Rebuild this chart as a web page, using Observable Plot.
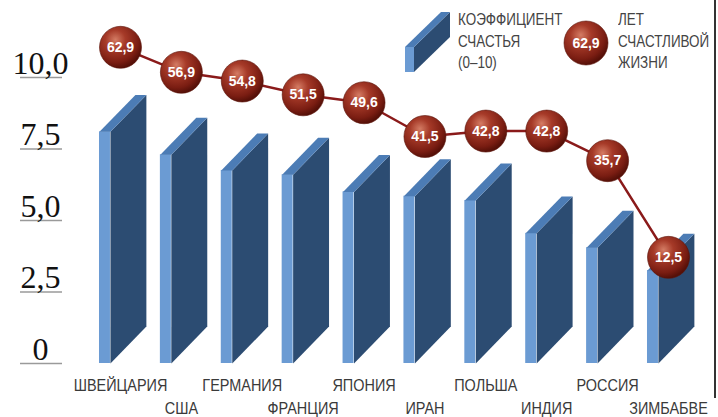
<!DOCTYPE html>
<html><head><meta charset="utf-8">
<script src="https://cdn.jsdelivr.net/npm/d3@7"></script>
<script src="https://cdn.jsdelivr.net/npm/@observablehq/plot@0.6"></script>
<style>
body{margin:0;background:#fff;}
#wrap{position:relative;width:718px;height:417px;overflow:hidden;background:#fff;}
.leg{position:absolute;font-family:"Liberation Sans","Arial",sans-serif;font-size:16px;line-height:21.5px;color:#444;white-space:nowrap;transform:scaleX(0.84);transform-origin:0 0;}
#border{position:absolute;left:714px;top:0;width:1.5px;height:398px;background:#333;}
</style></head><body>
<div id="wrap">
<div id="chart"></div>
<svg style="position:absolute;left:400px;top:5px" width="56" height="72">
  <polygon points="14,67 14,42 50,7 50,32" fill="#2c4c72"/>
  <polygon points="5,42 14,42 50,7 41,7" fill="#4c7cb5"/>
  <rect x="5" y="42" width="9" height="25" fill="#6b9bd3"/>
</svg>
<div class="leg" style="left:458px;top:9px">КОЭФФИЦИЕНТ<br>СЧАСТЬЯ<br>(0–10)</div>
<svg style="position:absolute;left:562px;top:19px" width="48" height="48">
  <defs><radialGradient id="legGrad" cx="38%" cy="32%" r="68%">
    <stop offset="0%" stop-color="#d47c64"/><stop offset="35%" stop-color="#a63a28"/>
    <stop offset="80%" stop-color="#7a1d12"/><stop offset="100%" stop-color="#561008"/></radialGradient></defs>
  <circle cx="24" cy="24" r="22" fill="url(#legGrad)" stroke="#5a1208" stroke-width="0.6"/>
  <text x="24" y="29" text-anchor="middle" fill="#fff" font-weight="bold" font-size="14" font-family="Liberation Sans, Arial, sans-serif">62,9</text>
</svg>
<div class="leg" style="left:618px;top:9px">ЛЕТ<br>СЧАСТЛИВОЙ<br>ЖИЗНИ</div>
<div id="border"></div>
</div>
<script>
const countries = ["ШВЕЙЦАРИЯ","США","ГЕРМАНИЯ","ФРАНЦИЯ","ЯПОНИЯ","ИРАН","ПОЛЬША","ИНДИЯ","РОССИЯ","ЗИМБАБВЕ"];
const happiness = [8.1, 7.3, 6.75, 6.6, 6.0, 5.85, 5.7, 4.55, 4.05, 3.25];
const happyYears = [62.9, 56.9, 54.8, 51.5, 49.6, 41.5, 42.8, 42.8, 35.7, 12.5];
const yTicks = [0, 2.5, 5, 7.5, 10];

// 3D slab geometry (in x/y scale units)
const FRONT_L = -0.345, FRONT_R = -0.165, DEPTH_X = 0.59, DEPTH_Y = 1.29;
// secondary scale for happy life years, mapped onto the main y scale
const lifeToY = d3.scaleLinear().domain([0, 70]).range([1.89, 12.09]);
const fmt = v => v.toFixed(1).replace(".", ",");

const rows = countries.map((c, i) => ({i, country: c, h: happiness[i], life: happyYears[i]}));
const sides = rows.flatMap(d => [
  [d.i + FRONT_R, 0], [d.i + FRONT_R, d.h],
  [d.i + FRONT_R + DEPTH_X, d.h + DEPTH_Y], [d.i + FRONT_R + DEPTH_X, DEPTH_Y]
].map(([x, y]) => ({id: d.i, x, y})));
const tops = rows.flatMap(d => [
  [d.i + FRONT_L, d.h], [d.i + FRONT_R, d.h],
  [d.i + FRONT_R + DEPTH_X, d.h + DEPTH_Y], [d.i + FRONT_L + DEPTH_X, d.h + DEPTH_Y]
].map(([x, y]) => ({id: d.i, x, y})));

const sans = "Liberation Sans, Arial, sans-serif";

const svg = Plot.plot({
  width: 718, height: 417,
  marginLeft: 120, marginRight: 50, marginTop: 77, marginBottom: 54,
  x: {domain: [0, 9], axis: null},
  y: {domain: [0, 10], axis: null},
  style: {background: "transparent"},
  marks: [
    Plot.axisY(yTicks, {tickSize: 42, dx: -58, tickFormat: () => "", stroke: "#9a9a9a", strokeWidth: 1.5, label: null}),
    Plot.text(yTicks, {y: d => d, frameAnchor: "left", dx: -80, dy: -4, text: d => d === 0 ? "0" : fmt(d),
      textAnchor: "middle", lineAnchor: "bottom", fontFamily: "Liberation Serif, Times New Roman, serif", fontSize: 32, fill: "#111"}),
    Plot.line(sides, {x: "x", y: "y", z: "id", fill: "#2c4c72", stroke: "none"}),
    Plot.rect(rows, {x1: d => d.i + FRONT_L, x2: d => d.i + FRONT_R, y1: d => 0, y2: "h", fill: "#6b9bd3"}),
    Plot.line(tops, {x: "x", y: "y", z: "id", fill: "#4c7cb5", stroke: "none"}),
    Plot.line(rows, {x: "i", y: d => lifeToY(d.life), stroke: "#8a1a1a", strokeWidth: 2.5}),
    Plot.dot(rows, {x: "i", y: d => lifeToY(d.life), r: 21, fill: "url(#ballGrad)", stroke: "#5a1208", strokeWidth: 0.6}),
    Plot.text(rows, {x: "i", y: d => lifeToY(d.life), text: d => fmt(d.life), fill: "#fff", fontWeight: "bold",
      fontSize: 14, fontFamily: sans}),
    Plot.text(rows.filter(d => d.i % 2 === 0), {x: "i", frameAnchor: "bottom", dy: 27, text: "country",
      fontFamily: sans, fontSize: 17, fill: "#3a3a3a", className: "cat-label"}),
    Plot.text(rows.filter(d => d.i % 2 === 1), {x: "i", frameAnchor: "bottom", dy: 50, text: "country",
      fontFamily: sans, fontSize: 17, fill: "#3a3a3a", className: "cat-label"})
  ]
});
d3.select(svg).append("defs").html(`<radialGradient id="ballGrad" cx="38%" cy="32%" r="68%">
  <stop offset="0%" stop-color="#d47c64"/><stop offset="35%" stop-color="#a63a28"/>
  <stop offset="80%" stop-color="#7a1d12"/><stop offset="100%" stop-color="#561008"/></radialGradient>`);
// condense the category labels horizontally (narrow typeface look)
d3.select(svg).selectAll(".cat-label text").each(function() {
  const t = this.getAttribute("transform") || "";
  this.setAttribute("transform", t + " scale(0.85,1)");
});
document.getElementById("chart").appendChild(svg);
</script>
</body></html>
